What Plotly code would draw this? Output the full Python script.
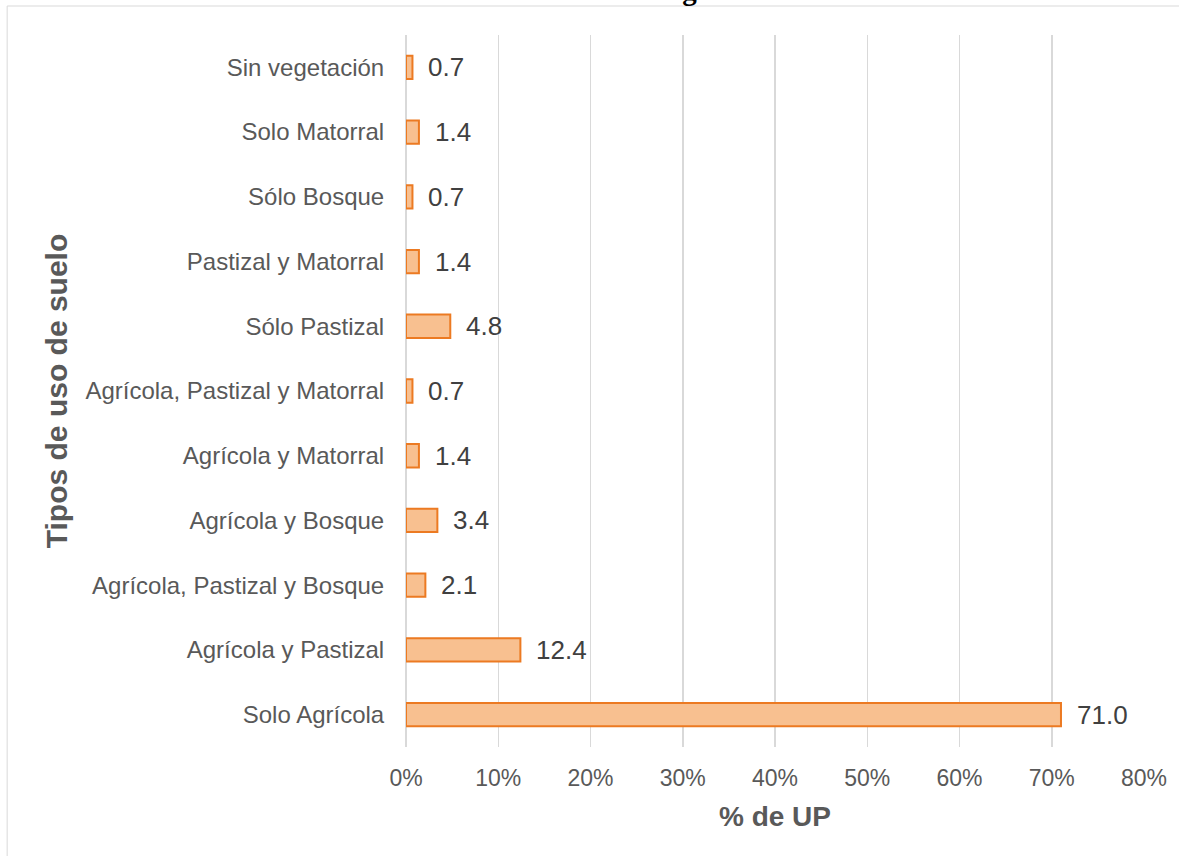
import plotly.graph_objects as go

categories = [
    "Solo Agrícola",
    "Agrícola y Pastizal",
    "Agrícola, Pastizal y Bosque",
    "Agrícola y Bosque",
    "Agrícola y Matorral",
    "Agrícola, Pastizal y Matorral",
    "Sólo Pastizal",
    "Pastizal y Matorral",
    "Sólo Bosque",
    "Solo Matorral",
    "Sin vegetación",
]
values = [71.0, 12.4, 2.1, 3.4, 1.4, 0.7, 4.8, 1.4, 0.7, 1.4, 0.7]
x_ticks = [0, 10, 20, 30, 40, 50, 60, 70, 80]
x_tick_labels = [f"{t}%" for t in x_ticks]
title_text = "Gráfica 11. Unidades de Producción según el uso de sus terrenos."

W, H = 1179, 856
L, R, T, B = 406, 31, 35, 109
ph = H - T - B
pw = W - L - R

fig = go.Figure()
fig.add_trace(go.Bar(
    x=values, y=categories, orientation="h",
    marker=dict(color="#F8C090", line=dict(color="#EC7A22", width=2)),
    hoverinfo="skip",
))

for v, c in zip(values, categories):
    fig.add_annotation(
        x=v, y=c, xref="x", yref="y", text=f"{v:.1f}", showarrow=False,
        xanchor="left", yanchor="middle", xshift=14,
        font=dict(family="Liberation Sans, Arial", size=26, color="#404040"),
    )

# clipped chart title at top
fig.add_annotation(
    x=(607 - L) / pw, y=(ph + T + 10) / ph, xref="paper", yref="paper",
    text=f"<b>{title_text}</b>", showarrow=False, xanchor="center", yanchor="middle",
    font=dict(family="Liberation Serif, Times New Roman", size=29, color="#000000"),
)

# outer chart border
fig.add_shape(
    type="rect", xref="paper", yref="paper",
    x0=(5 - L) / pw, x1=2, y0=-1, y1=(ph + T - 6) / ph,
    line=dict(color="#D9D9D9", width=1), fillcolor="rgba(0,0,0,0)", layer="below",
)

fig.update_layout(
    width=W, height=H,
    margin=dict(l=L, r=R, t=T, b=B, pad=0),
    paper_bgcolor="white", plot_bgcolor="white",
    bargap=0.64, showlegend=False,
    font=dict(family="Liberation Sans, Arial", color="#595959"),
    xaxis=dict(
        range=[0, 80], tickvals=x_ticks, ticktext=x_tick_labels,
        showgrid=True, gridcolor="#D9D9D9", gridwidth=1.5,
        zeroline=True, zerolinecolor="#D9D9D9", zerolinewidth=1.5,
        showline=False,
        ticks="outside", ticklen=10, tickcolor="rgba(0,0,0,0)",
        tickfont=dict(size=23, color="#595959"),
        title=dict(text="<b>% de UP</b>", font=dict(size=28, color="#595959"), standoff=16),
        fixedrange=True,
    ),
    yaxis=dict(
        showgrid=False, showline=False, zeroline=False,
        ticks="outside", ticklen=16, tickcolor="rgba(0,0,0,0)",
        tickfont=dict(size=24, color="#595959"),
        title=dict(text="<b>Tipos de uso de suelo</b>", font=dict(size=30, color="#595959"), standoff=8),
        fixedrange=True,
    ),
)

fig.write_html(
    "out.html",
    config={"displayModeBar": False, "staticPlot": True},
    post_script="document.body.style.margin='0px';document.body.style.overflow='hidden';",
)
